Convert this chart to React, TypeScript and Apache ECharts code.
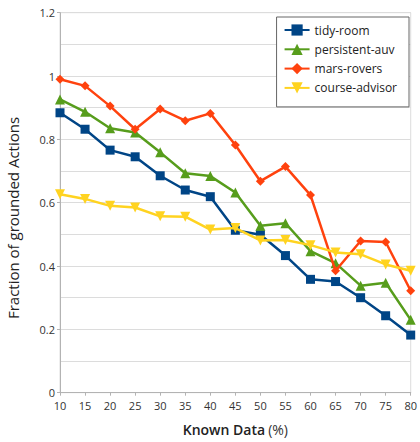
import React, { useEffect, useRef } from "react";
import * as echarts from "echarts";

// Known data percentages (x axis)
const knownData = [10, 15, 20, 25, 30, 35, 40, 45, 50, 55, 60, 65, 70, 75, 80];

// Fraction of grounded actions per domain
const tidyRoom = [0.884, 0.832, 0.766, 0.745, 0.685, 0.64, 0.619, 0.513, 0.499, 0.433, 0.358, 0.351, 0.3, 0.243, 0.182];
const persistentAuv = [0.926, 0.887, 0.835, 0.822, 0.759, 0.693, 0.684, 0.632, 0.527, 0.535, 0.447, 0.409, 0.338, 0.347, 0.23];
const marsRovers = [0.99, 0.969, 0.905, 0.832, 0.896, 0.859, 0.882, 0.782, 0.668, 0.714, 0.624, 0.385, 0.479, 0.476, 0.322];
const courseAdvisor = [0.627, 0.612, 0.59, 0.585, 0.557, 0.556, 0.515, 0.52, 0.481, 0.482, 0.466, 0.443, 0.437, 0.405, 0.385];

const seriesNames = ["tidy-room", "persistent-auv", "mars-rovers", "course-advisor"];
const seriesValues = [tidyRoom, persistentAuv, marsRovers, courseAdvisor];
const seriesColors = ["#004586", "#579d1c", "#ff420e", "#ffd320"];
const seriesSymbols = ["rect", "triangle", "diamond", "triangle"];
const symbolRotations = [0, 0, 0, 180];
const symbolSizes = [9, 10, 9, 10];

const yTitle = "Fraction of grounded Actions";

const FONT = "'Open Sans', 'DejaVu Sans', sans-serif";

export default function App() {
  const ref = useRef<HTMLDivElement>(null);

  useEffect(() => {
    if (!ref.current) return;
    const chart = echarts.init(ref.current, undefined, { renderer: "svg" });

    const series = seriesNames.map((name, i) => ({
      name,
      type: "line" as const,
      data: knownData.map((x, j) => [x, seriesValues[i][j]]),
      symbol: seriesSymbols[i],
      symbolRotate: symbolRotations[i],
      symbolSize: symbolSizes[i],
      lineStyle: { width: 2.5, color: seriesColors[i] },
      itemStyle: { color: seriesColors[i] },
      z: 2 + i,
    }));

    chart.setOption({
      animation: false,
      textStyle: { fontFamily: FONT },
      grid: {
        left: 60,
        right: 4,
        top: 12.7,
        bottom: 49.3,
        show: true,
        borderColor: "#dcdcdc",
        borderWidth: 1,
        backgroundColor: "transparent",
      },
      legend: {
        orient: "vertical",
        right: 11,
        top: 17,
        padding: [7, 12, 13, 7],
        itemGap: 7.3,
        itemWidth: 25,
        itemHeight: 14,
        backgroundColor: "#ffffff",
        borderColor: "#666666",
        borderWidth: 1,
        textStyle: { fontFamily: FONT, fontSize: 12, color: "#222" },
        data: seriesNames,
      },
      graphic: [
        {
          type: "text",
          x: 13,
          y: 218,
          rotation: Math.PI / 2,
          style: {
            text: yTitle,
            fontFamily: FONT,
            fontSize: 15,
            fill: "#222",
            align: "center",
            verticalAlign: "middle",
          },
        },
      ],
      xAxis: {
        type: "value",
        min: 10,
        max: 80,
        interval: 5,
        name: "{b|Known Data} {n|(%)}",
        nameLocation: "middle",
        nameGap: 30,
        nameTextStyle: {
          rich: {
            b: { fontFamily: FONT, fontSize: 14, fontWeight: 600, color: "#222" },
            n: { fontFamily: FONT, fontSize: 14, fontWeight: 400, color: "#333" },
          },
        },
        axisLine: { show: true, lineStyle: { color: "#b3b3b3" } },
        axisTick: { show: true, length: 3, lineStyle: { color: "#b3b3b3" } },
        axisLabel: { fontFamily: FONT, fontSize: 11, color: "#333", margin: 7 },
        splitLine: { show: false },
      },
      yAxis: {
        type: "value",
        min: 0,
        max: 1.2,
        interval: 0.2,
        axisLine: { show: true, lineStyle: { color: "#b3b3b3" } },
        axisTick: { show: true, length: 3, lineStyle: { color: "#b3b3b3" } },
        axisLabel: { fontFamily: FONT, fontSize: 11, color: "#333", margin: 5 },
        splitLine: { show: true, lineStyle: { color: "#dcdcdc" } },
        minorTick: { show: false, splitNumber: 2 },
        minorSplitLine: { show: true, lineStyle: { color: "#dcdcdc" } },
      },
      series,
    });

    return () => chart.dispose();
  }, []);

  return (
    <div
      ref={ref}
      style={{ position: "fixed", left: 0, top: 0, width: 420, height: 442, background: "#fff" }}
    />
  );
}
